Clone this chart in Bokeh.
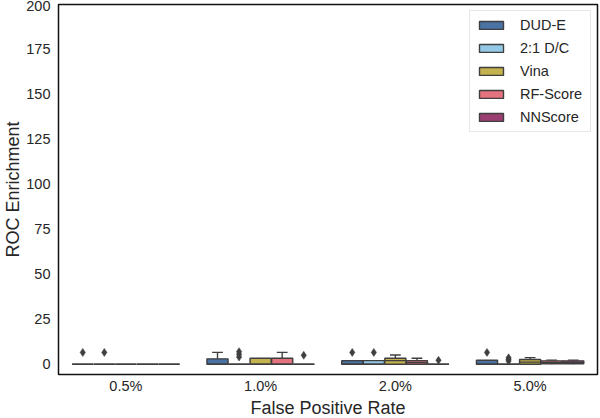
from bokeh.plotting import figure
from bokeh.models import (ColumnDataSource, FactorRange, Range1d, FixedTicker,
                          Legend, LegendItem)
from bokeh.transform import dodge
from bokeh.embed import file_html
from bokeh.resources import INLINE

# ---------------- data ----------------
categories = ["0.5%", "1.0%", "2.0%", "5.0%"]
hues = ["DUD-E", "2:1 D/C", "Vina", "RF-Score", "NNScore"]
colors = ["#4a72a3", "#93c9e6", "#c3b24d", "#e5727f", "#9b3f73"]

q1 = {
    "DUD-E":    [0, 0, 0, 0],
    "2:1 D/C":  [0, 0, 0, 0],
    "Vina":     [0, 0, 0, 0],
    "RF-Score": [0, 0, 0, 0.3],
    "NNScore":  [0, 0, 0, 0.3],
}
median = {
    "DUD-E":    [0, 0, 0, 0],
    "2:1 D/C":  [0, 0, 0, 0],
    "Vina":     [0, 0, 2.0, 1.2],
    "RF-Score": [0, 0, 1.0, 1.0],
    "NNScore":  [0, 0, 0, 1.0],
}
q3 = {
    "DUD-E":    [0, 3.0, 2.0, 2.2],
    "2:1 D/C":  [0, 0, 2.0, 0],
    "Vina":     [0, 3.3, 3.3, 2.6],
    "RF-Score": [0, 3.3, 2.0, 1.9],
    "NNScore":  [0, 0, 0, 1.9],
}
whisker_low = {
    "DUD-E":    [0, 0, 0, 0],
    "2:1 D/C":  [0, 0, 0, 0],
    "Vina":     [0, 0, 0, 0],
    "RF-Score": [0, 0, 0, 0],
    "NNScore":  [0, 0, 0, 0],
}
whisker_high = {
    "DUD-E":    [0, 6.6, 2.0, 2.2],
    "2:1 D/C":  [0, 0, 2.0, 0],
    "Vina":     [0, 3.3, 5.1, 3.7],
    "RF-Score": [0, 6.6, 3.3, 2.3],
    "NNScore":  [0, 0, 0, 2.3],
}
outliers = {
    "DUD-E":    [("0.5%", 6.6), ("2.0%", 6.6), ("5.0%", 6.6)],
    "2:1 D/C":  [("0.5%", 6.6), ("1.0%", 4.0), ("1.0%", 5.5), ("1.0%", 7.0),
                 ("2.0%", 6.6), ("5.0%", 1.8), ("5.0%", 2.7), ("5.0%", 3.6)],
    "Vina":     [],
    "RF-Score": [],
    "NNScore":  [("1.0%", 5.0), ("2.0%", 2.2)],
}
y_ticks = [0, 25, 50, 75, 100, 125, 150, 175, 200]

# ---------------- figure ----------------
FONT = "Liberation Sans"
EDGE = "#3f3f3f"

p = figure(frame_width=539, frame_height=370, output_backend="svg", toolbar_location=None,
           x_range=FactorRange(factors=categories, range_padding=0),
           y_range=Range1d(-5.7, 200),
           min_border_left=56, min_border_right=4, min_border_top=4,
           min_border_bottom=40)

p.background_fill_color = "white"
p.border_fill_color = "white"
p.outline_line_color = "#111111"
p.outline_line_width = 1.5
p.xgrid.visible = False
p.ygrid.visible = False

box_w = 0.8 / len(hues)
offsets = [(-0.4 + box_w * (i + 0.5)) for i in range(len(hues))]

items = []
for h, col, off in zip(hues, colors, offsets):
    src = ColumnDataSource(dict(cat=categories, q1=q1[h], med=median[h], q3=q3[h],
                                lo=whisker_low[h], hi=whisker_high[h]))
    xc = dodge("cat", off, range=p.x_range)
    xl = dodge("cat", off - box_w * 0.49, range=p.x_range)
    xr = dodge("cat", off + box_w * 0.49, range=p.x_range)
    cl = dodge("cat", off - box_w * 0.25, range=p.x_range)
    cr = dodge("cat", off + box_w * 0.25, range=p.x_range)
    p.segment(x0=xc, y0="q3", x1=xc, y1="hi", source=src, line_color=EDGE, line_width=1.4)
    p.segment(x0=xc, y0="q1", x1=xc, y1="lo", source=src, line_color=EDGE, line_width=1.4)
    src_c = ColumnDataSource(dict(cat=[c for c, a, b in zip(categories, q3[h], whisker_high[h]) if b > a],
                                  hi=[b for a, b in zip(q3[h], whisker_high[h]) if b > a]))
    p.segment(x0=cl, y0="hi", x1=cr, y1="hi", source=src_c, line_color=EDGE, line_width=1.4)
    r = p.vbar(x=xc, width=box_w * 0.98, bottom="q1", top="q3", source=src,
               fill_color=col, line_color=EDGE, line_width=1.4)
    p.segment(x0=xl, y0="med", x1=xr, y1="med", source=src, line_color=EDGE, line_width=1.4)
    if outliers[h]:
        osrc = ColumnDataSource(dict(cat=[c for c, v in outliers[h]],
                                     val=[v for c, v in outliers[h]]))
        p.scatter(x=xc, y="val", source=osrc, marker="diamond", size=8,
                  fill_color=EDGE, line_color=EDGE, line_width=0.5)
    items.append(LegendItem(label=h, renderers=[r]))

p.yaxis.ticker = FixedTicker(ticks=y_ticks)
for ax in (p.xaxis[0], p.yaxis[0]):
    ax.axis_line_color = None
    ax.major_tick_line_color = None
    ax.minor_tick_line_color = None
    ax.major_tick_out = 0
    ax.major_tick_in = 0
    ax.minor_tick_out = 0
    ax.minor_tick_in = 0
    ax.major_label_text_font = FONT
    ax.major_label_text_font_size = "14.5px"
    ax.major_label_text_color = "#262626"
    ax.axis_label_text_font = FONT
    ax.axis_label_text_font_size = "18px"
    ax.axis_label_text_font_style = "normal"
    ax.axis_label_text_color = "#262626"
p.xaxis.axis_label = "False Positive Rate"
p.yaxis.axis_label = "ROC Enrichment"
p.xaxis.major_label_standoff = 3
p.xaxis.axis_label_standoff = 1
p.yaxis.major_label_standoff = 8
p.yaxis.axis_label_standoff = 0

legend = Legend(items=items, location="top_right")
legend.margin = 6
legend.label_text_font = FONT
legend.label_text_font_size = "14.5px"
legend.label_text_color = "#262626"
legend.glyph_width = 30
legend.glyph_height = 10
legend.label_standoff = 14
legend.label_height = 16
legend.label_width = 64
legend.spacing = 7
legend.padding = 6
legend.border_line_color = "#d0d0d0"
legend.border_line_width = 1
legend.background_fill_alpha = 0.85
p.add_layout(legend, "center")

open("out.html", "w").write(file_html(p, INLINE))
